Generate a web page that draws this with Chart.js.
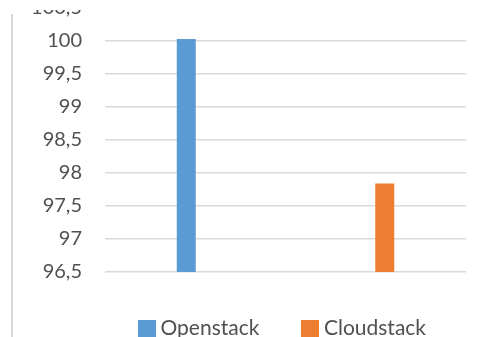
<!DOCTYPE html>
<html>
<head>
<meta charset="utf-8">
<script src="https://cdn.jsdelivr.net/npm/chart.js@4"></script>
<style>
  html, body { margin: 0; padding: 0; background: #fff; }
  body { width: 490px; height: 337px; position: relative; overflow: hidden; }
  #wrap { position: absolute; left: 0; top: -27px; width: 490px; height: 382px; }
  #topMask { position: absolute; left: 0; top: 0; width: 490px; height: 10px; background: #fff; }
  #frame { position: absolute; left: 11px; top: 14px; bottom: 0; width: 1.5px; background: #d9d9d9; }
</style>
</head>
<body>
<div id="wrap"><canvas id="chart"></canvas></div>
<div id="topMask"></div>
<div id="frame"></div>
<script>
const categories = [''];
const seriesNames = ['Openstack', 'Cloudstack'];
const openstack = [100.03];
const cloudstack = [97.84];
const yTicks = [96.5, 97, 97.5, 98, 98.5, 99, 99.5, 100, 100.5];

const colors = ['#5b9bd5', '#ed7d31'];
const textGray = '#505050';

// square legend marker, drawn wider than the box slot so the text sits close to it
function marker(color) {
  const c = document.createElement('canvas');
  c.width = 18;
  c.height = 18;
  const g = c.getContext('2d');
  g.fillStyle = color;
  g.fillRect(0, 0, 18, 18);
  return c;
}

// nudge the legend into place, like the original layout
const legendShift = {
  id: 'legendShift',
  afterLayout(chart) {
    chart.legend.left += 52;
    chart.legend.right += 52;
    chart.legend.top -= 6;
  }
};

const config = {
  type: 'bar',
  data: {
    labels: categories,
    datasets: [
      { label: seriesNames[0], data: openstack, backgroundColor: colors[0] },
      { label: seriesNames[1], data: cloudstack, backgroundColor: colors[1] }
    ]
  },
  options: {
    responsive: true,
    maintainAspectRatio: false,
    animation: false,
    layout: { padding: { top: 0, left: 0, right: 24, bottom: 0 } },
    datasets: {
      bar: { categoryPercentage: 1.0997, barPercentage: 0.0957 }
    },
    scales: {
      x: {
        grid: { display: false },
        border: { display: false },
        ticks: { display: false },
        afterFit(scale) { scale.height = 4; }
      },
      y: {
        min: yTicks[0],
        max: yTicks[yTicks.length - 1],
        afterBuildTicks(scale) { scale.ticks = yTicks.map(v => ({ value: v })); },
        afterFit(scale) { scale.width = 105; },
        grid: { color: '#d9d9d9', lineWidth: 1.5, drawTicks: false },
        border: { display: false },
        ticks: {
          padding: 23,
          color: textGray,
          font: { family: 'Lato', size: 20 },
          callback: v => String(v).replace('.', ',')
        }
      }
    },
    plugins: {
      tooltip: { enabled: false },
      legend: {
        position: 'bottom',
        labels: {
          usePointStyle: true,
          pointStyleWidth: 6,
          boxHeight: 18,
          padding: 48,
          color: textGray,
          font: { family: 'Lato', size: 21 },
          generateLabels(chart) {
            const items = Chart.defaults.plugins.legend.labels.generateLabels(chart);
            items.forEach((it, i) => { it.pointStyle = marker(colors[i]); });
            return items;
          }
        }
      }
    }
  },
  plugins: [legendShift]
};

new Chart(document.getElementById('chart').getContext('2d'), config);
</script>
</body>
</html>
